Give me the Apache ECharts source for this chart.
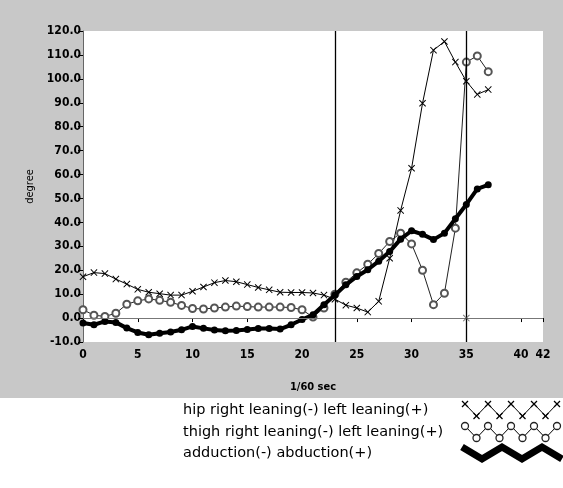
<!DOCTYPE html>
<html>
<head>
<meta charset="utf-8">
<script src="https://cdn.jsdelivr.net/npm/echarts@6/dist/echarts.min.js"></script>
<style>
html,body{margin:0;padding:0;}
#chart{width:563px;height:488px;background:linear-gradient(to bottom,#c8c8c8 0px,#c8c8c8 398px,#ffffff 398px);}
</style>
</head>
<body>
<div id="chart"></div>
<script>
// ---- data ----
const frames = [0,1,2,3,4,5,6,7,8,9,10,11,12,13,14,15,16,17,18,19,20,21,22,23,24,25,26,27,28,29,30,31,32,33,34,35,36,37];
const hipValues = [17.3,19.0,18.6,16.3,14.2,12.0,10.8,10.2,9.6,9.6,11.2,13.0,14.8,15.7,15.2,14.0,12.8,11.8,10.8,10.7,10.7,10.5,9.6,7.9,5.4,4.2,2.5,7.0,25.0,45.0,62.6,89.8,112.0,115.6,107.0,99.0,93.5,95.5];
const thighValues = [3.5,1.2,0.7,2.0,5.8,7.2,8.0,7.4,6.6,5.3,4.0,3.8,4.2,4.6,5.0,4.8,4.6,4.6,4.6,4.4,3.5,0.4,4.2,10.0,15.0,18.9,22.5,27.0,32.0,35.5,31.0,20.0,5.6,10.4,37.6,107.0,109.6,103.0];
const adductionValues = [-2.1,-2.8,-1.4,-1.8,-4.2,-6.0,-7.0,-6.3,-5.8,-4.9,-3.5,-4.3,-5.0,-5.3,-5.2,-4.8,-4.4,-4.4,-4.6,-2.8,-0.6,1.4,5.6,9.6,13.9,17.4,20.2,23.8,27.8,33.0,36.5,35.0,32.8,35.5,41.5,47.5,54.0,55.7];
const seriesNames = ['hip right leaning(-) left leaning(+)','thigh right leaning(-) left leaning(+)','adduction(-) abduction(+)'];
const verticalMarkers = [23, 35];
const cursorPoint = [[35, 0]];
const yTicks = {min: -10, max: 120, step: 10};
const xTicks = {min: 0, max: 42, step: 5};
const xTitle = '1/60 sec';
const yTitle = 'degree';

const pair = vals => frames.map((f,i)=>[f, vals[i]]);
const X_PATH = 'path://M0,1L1,0L5,4L9,0L10,1L6,5L10,9L9,10L5,6L1,10L0,9L4,5Z';
const tickFont = "'Liberation Sans Narrow','DejaVu Sans Condensed','Liberation Sans',sans-serif";

// ---- legend graphics ----
function zig(x0, x1, yc, amp, period){
  const pts=[]; let up=true;
  for(let x=x0; x<=x1+0.1; x+=period/2){ pts.push([x, yc + (up?-amp:amp)]); up=!up; }
  return pts;
}
const legendY = [410, 432, 453];
const graphics = [];
seriesNames.forEach((n,i)=>{
  graphics.push({type:'text', x:183, y:legendY[i], style:{text:n, fill:'#000', font:"14.5px 'DejaVu Sans',sans-serif", textVerticalAlign:'middle', verticalAlign:'middle'}});
});
const z1 = zig(465, 563, legendY[0], 6, 23);
graphics.push({type:'polyline', shape:{points:z1}, style:{stroke:'#000', lineWidth:1, fill:null}});
z1.forEach(p=>{
  graphics.push({type:'line', shape:{x1:p[0]-3, y1:p[1]-3, x2:p[0]+3, y2:p[1]+3}, style:{stroke:'#000', lineWidth:1.2}});
  graphics.push({type:'line', shape:{x1:p[0]+3, y1:p[1]-3, x2:p[0]-3, y2:p[1]+3}, style:{stroke:'#000', lineWidth:1.2}});
});
const z2 = zig(465, 563, legendY[1], 6, 23);
graphics.push({type:'polyline', shape:{points:z2}, style:{stroke:'#000', lineWidth:1, fill:null}});
z2.forEach(p=>graphics.push({type:'circle', shape:{cx:p[0], cy:p[1], r:3.5}, style:{stroke:'#222', lineWidth:1.3, fill:'#fff'}}));
const z3 = zig(462, 570, legendY[2], 6, 40);
graphics.push({type:'polyline', shape:{points:z3}, style:{stroke:'#000', lineWidth:7, fill:null, lineJoin:'miter'}});

const chart = echarts.init(document.getElementById('chart'), null, {renderer:'canvas'});
chart.setOption({
  backgroundColor: 'transparent',
  animation: false,
  grid: {left: 83, right: 20, top: 31, bottom: 146, show: true, backgroundColor: '#fff', borderWidth: 0},
  xAxis: {
    type: 'value', min: xTicks.min, max: xTicks.max, interval: xTicks.step,
    name: xTitle, nameLocation: 'middle', nameGap: 40,
    nameTextStyle: {color:'#000', fontSize: 11, fontFamily: tickFont, fontWeight: 'bold'},
    axisLine: {show: true, lineStyle: {color: '#888', width: 1}},
    axisTick: {show: true, length: 4, lineStyle: {color: '#000'}},
    axisLabel: {color:'#000', fontSize: 12, fontFamily: tickFont, fontWeight: 'bold', margin: 7, showMaxLabel: true},
    splitLine: {show: false}
  },
  yAxis: {
    type: 'value', min: yTicks.min, max: yTicks.max, interval: yTicks.step,
    name: yTitle, nameLocation: 'middle', nameGap: 46, nameRotate: 90,
    nameTextStyle: {color:'#000', fontSize: 11, fontFamily: tickFont},
    axisLine: {show: true, lineStyle: {color: '#666', width: 1}},
    axisTick: {show: true, length: 5, lineStyle: {color: '#000'}},
    axisLabel: {color:'#000', fontSize: 12, fontFamily: tickFont, fontWeight: 'bold', margin: 2, formatter: v => v.toFixed(1)},
    splitLine: {show: false}
  },
  graphic: graphics,
  series: [
    {
      name: seriesNames[0], type: 'line', data: pair(hipValues),
      symbol: X_PATH, symbolSize: 7, showAllSymbol: true,
      lineStyle: {color:'#000', width: 1}, itemStyle: {color:'#000'}, z: 3,
      markLine: {
        silent: true, symbol: ['none','none'], label: {show:false},
        data: [
          {yAxis: 0, lineStyle: {color:'#777', width: 1, type:'solid'}},
          ...verticalMarkers.map(v=>({xAxis: v, lineStyle: {color:'#000', width: 1.3, type:'solid'}}))
        ]
      }
    },
    {
      name: seriesNames[1], type: 'line', data: pair(thighValues),
      symbol: 'emptyCircle', symbolSize: 7, showAllSymbol: true,
      lineStyle: {color:'#222', width: 1}, itemStyle: {color:'#555', borderWidth: 1}, z: 3
    },
    {
      name: seriesNames[2], type: 'line', data: pair(adductionValues),
      symbol: 'circle', symbolSize: 7, showAllSymbol: true,
      lineStyle: {color:'#000', width: 4}, itemStyle: {color:'#000'}, z: 4
    },
    {
      name: 'cursor', type: 'scatter', data: cursorPoint,
      symbol: X_PATH, symbolSize: 7, itemStyle: {color:'#555'}, z: 5
    }
  ]
});
</script>
</body>
</html>
